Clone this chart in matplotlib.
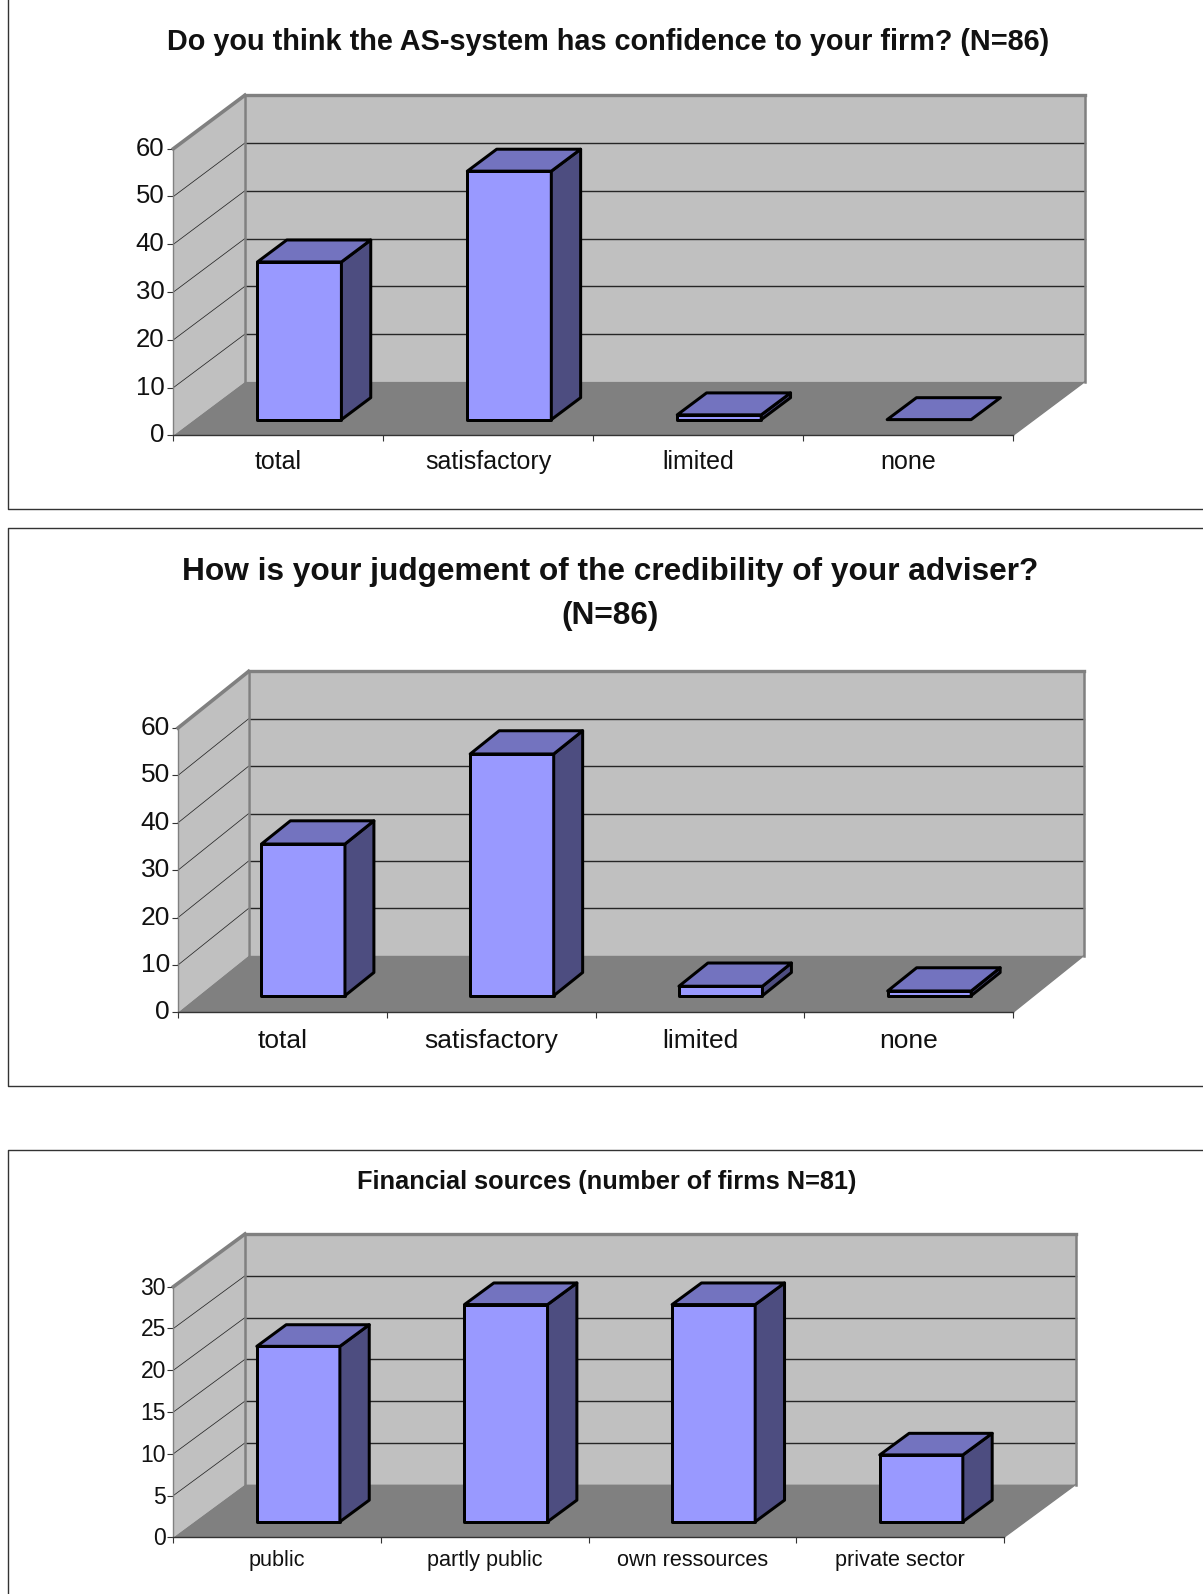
import matplotlib
matplotlib.use("Agg")
import matplotlib.pyplot as plt
from matplotlib.lines import Line2D
from matplotlib.patches import Polygon
from matplotlib.transforms import ScaledTranslation

plt.rcParams['font.family'] = ['Liberation Sans', 'DejaVu Sans']

W, H = 1203, 1594

title_a = "Do you think the AS-system has confidence to your firm? (N=86)"
cats_a = ["total", "satisfactory", "limited", "none"]
vals_a = [33, 52, 1, 0]
ticks_a = [0, 10, 20, 30, 40, 50, 60]

title_b = "How is your judgement of the credibility of your adviser?\n(N=86)"
cats_b = ["total", "satisfactory", "limited", "none"]
vals_b = [32, 51, 2, 1]
ticks_b = [0, 10, 20, 30, 40, 50, 60]

title_c = "Financial sources (number of firms N=81)"
cats_c = ["public", "partly public", "own ressources", "private sector"]
vals_c = [21, 26, 26, 8]
ticks_c = [0, 5, 10, 15, 20, 25, 30]

WALL = "#C0C0C0"
FLOOR = "#808080"
FRONT = "#9999FF"
SIDE = "#4D4D80"
TOP = "#7373BF"
EDGE = "#000000"
PX = 0.72

fig = plt.figure(figsize=(W / 100, H / 100), dpi=100, facecolor="white")


def panel(pts):
    xs = [p[0] / W for p in pts]
    ys = [1 - p[1] / H for p in pts]
    fig.add_artist(Line2D(xs, ys, color="#333333", lw=1.0, transform=fig.transFigure))


def chart(rect, back, cats, vals, ticks, yfs, xfs, xpad, ylift, ypad):
    left, right, top, bottom = rect
    ax = fig.add_axes([left / W, 1 - bottom / H, (right - left) / W, (bottom - top) / H])
    ax.set_xlim(0, len(cats))
    ax.set_ylim(ticks[0], ticks[-1])
    ax.patch.set_visible(False)
    for s in ax.spines.values():
        s.set_visible(False)
    cat_px = (right - left) / len(cats)
    val_px = (bottom - top) / (ticks[-1] - ticks[0])
    DX = back[0] / cat_px
    DY = back[1] / val_px

    def pr(x, y, d):
        return (x + d * DX, y + d * DY)

    n = len(cats)
    ymax = ticks[-1]

    def poly(points, fc, ec, lw, z):
        ax.add_patch(Polygon(points, closed=True, facecolor=fc, edgecolor=ec, linewidth=lw,
                             zorder=z, clip_on=False, joinstyle="round"))

    def line(p, q, col, lw, z):
        ax.add_line(Line2D([p[0], q[0]], [p[1], q[1]], color=col, lw=lw, zorder=z, clip_on=False))

    # back wall, side wall, floor
    poly([pr(0, 0, 1), pr(n, 0, 1), pr(n, ymax, 1), pr(0, ymax, 1)], WALL, "none", 0, 1)
    poly([pr(0, 0, 0), pr(0, 0, 1), pr(0, ymax, 1), pr(0, ymax, 0)], WALL, "none", 0, 1)
    poly([pr(0, 0, 0), pr(n, 0, 0), pr(n, 0, 1), pr(0, 0, 1)], FLOOR, "none", 0, 2)
    for t in ticks[1:-1]:
        line(pr(0, t, 1), pr(n, t, 1), "#262626", 1.0, 1.5)
        line(pr(0, t, 0), pr(0, t, 1), "#262626", 0.55, 1.5)
    # wall outlines
    g = "#808080"
    for a, b, w in [(pr(0, ymax, 1), pr(n, ymax, 1), 2.4),
                    (pr(n, ymax, 1), pr(n, 0, 1), 1.8),
                    (pr(0, ymax, 1), pr(0, 0, 1), 1.8),
                    (pr(0, ymax, 0), pr(0, ymax, 1), 2.6),
                    (pr(0, ymax, 0), pr(0, 0, 0), 1.0),
                    (pr(n, 0, 0), pr(n, 0, 1), 1.0)]:
        line(a, b, g, w, 1.8)
    line(pr(0, 0, 0), pr(n, 0, 0), "#333333", 1.0, 3)

    # bars
    bw = 0.4
    d0, d1 = 0.295, 0.705
    lw = 3 * PX
    for i, v in enumerate(vals):
        x0 = i + 0.5 - bw / 2
        x1 = x0 + bw
        if v > 0:
            poly([pr(x0, 0, d0), pr(x1, 0, d0), pr(x1, v, d0), pr(x0, v, d0)], FRONT, EDGE, lw, 5)
            poly([pr(x1, 0, d0), pr(x1, 0, d1), pr(x1, v, d1), pr(x1, v, d0)], SIDE, EDGE, lw, 5)
        poly([pr(x0, v, d0), pr(x1, v, d0), pr(x1, v, d1), pr(x0, v, d1)], TOP, EDGE, lw, 6)

    ax.set_yticks(ticks)
    ax.set_yticklabels([str(t) for t in ticks])
    ax.set_xticks(range(n + 1))
    ax.set_xticklabels([])
    ax.set_xticks([i + 0.5 for i in range(n)], minor=True)
    ax.set_xticklabels(cats, minor=True)
    ax.tick_params(axis="y", length=6 * PX, width=0.8, color="#333333", labelsize=yfs, pad=ypad, labelcolor="#111111")
    ax.tick_params(axis="x", which="major", length=6 * PX, width=0.8, color="#333333")
    ax.tick_params(axis="x", which="minor", length=0, labelsize=xfs, pad=xpad, labelcolor="#111111")
    for lb in ax.get_yticklabels():
        lb.set_transform(lb.get_transform() + ScaledTranslation(0, ylift / 100, fig.dpi_scale_trans))
    return ax


panel([(7.7, 0), (7.7, 509), (W, 509)])
panel([(W, 528), (7.7, 528), (7.7, 1086), (W, 1086)])
panel([(W, 1150), (7.7, 1150), (7.7, H)])

chart((173.4, 1013, 148.7, 435.4), (71.5, 53.5), cats_a, vals_a, ticks_a, 18.5, 18, 10.5, 2.5, 2)
chart((178, 1013, 728, 1012.4), (70.6, 56.6), cats_b, vals_b, ticks_b, 19, 19, 12, 2.5, 1.5)
chart((173.4, 1004, 1286.7, 1537.3), (71.6, 52.7), cats_c, vals_c, ticks_c, 16.5, 15.6, 9, 1, 1)

fig.text(608 / W, 1 - 42 / H, title_a, ha="center", va="center", fontsize=20.8, fontweight="bold", color="#111111")
fig.text(610 / W, 1 - 594 / H, title_b, ha="center", va="center", fontsize=22.8, fontweight="bold",
         color="#111111", linespacing=1.6)
fig.text(607 / W, 1 - 1182 / H, title_c, ha="center", va="center", fontsize=18.3, fontweight="bold", color="#111111")

fig.savefig("out.png", dpi=100, facecolor="white")
